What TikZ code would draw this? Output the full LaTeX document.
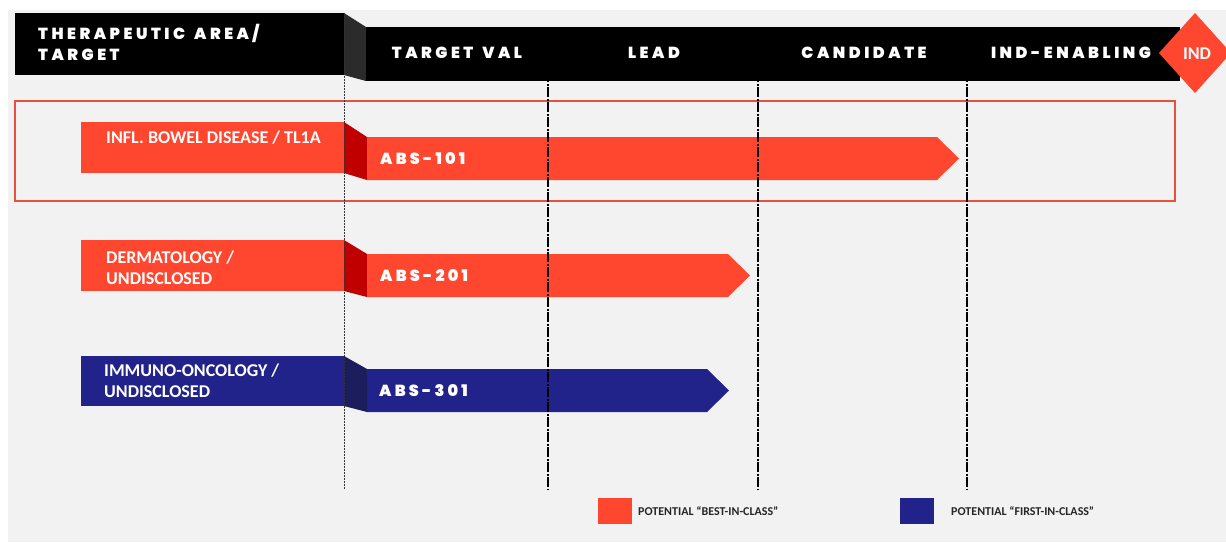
\documentclass[tikz,border=0pt]{standalone}
\usepackage{fontspec}
\IfFontExistsTF{Poppins ExtraBold}{%
  \newfontfamily\pop{Poppins ExtraBold}[LetterSpace=22]
  \newfontfamily\popabs{Poppins ExtraBold}[LetterSpace=20]
}{%
  \newfontfamily\pop{Poppins}[LetterSpace=22]
  \newfontfamily\popabs{Poppins}[LetterSpace=20]
}
\newfontfamily\carl{Carlito}
\newcommand{\wsp}{\hspace{9pt}}
\definecolor{bg}{HTML}{F2F2F2}
\definecolor{bred}{HTML}{FF462E}
\definecolor{dred}{HTML}{C00000}
\definecolor{navy}{HTML}{21238A}
\definecolor{dnavy}{HTML}{1B1D5C}
\definecolor{slantgray}{HTML}{2B2B2B}
\definecolor{boxred}{HTML}{E8503C}
\definecolor{legtext}{HTML}{262626}
\tikzset{
  hdrtext/.style={text=white,font=\pop\bfseries\fontsize{16}{21}\selectfont,inner sep=0pt},
  abstext/.style={text=white,font=\popabs\bfseries\fontsize{16}{18}\selectfont,inner sep=0pt,anchor=west},
  lbltext/.style={text=white,font=\carl\bfseries\fontsize{18}{21}\selectfont,inner sep=0pt,anchor=west,align=left},
  legtxt/.style={text=legtext,font=\carl\bfseries\fontsize{12}{14}\selectfont,inner sep=0pt,anchor=west},
  colline/.style={line width=1.6pt,black,dash pattern=on 10pt off 1.5pt on 2pt off 1.5pt},
  firstline/.style={line width=0.8pt,black!80,dash pattern=on 1.5pt off 1.5pt},
}
\begin{document}
\begin{tikzpicture}[x=1pt,y=-1pt]
\useasboundingbox (0,0) rectangle (1226,542);
\fill[white] (0,0) rectangle (1226,542);
\fill[bg] (8,10) rectangle (1226,542);
% header
\fill[black] (15,13) rectangle (344,75);
\fill[slantgray] (344,13) -- (366,27) -- (366,81) -- (344,75) -- cycle;
\fill[black] (366,27) rectangle (1180,81);
\node[hdrtext,anchor=west,align=left] (hta) at (38,42.5) {THERAPEUTIC\wsp AREA/\\TARGET};
\node[hdrtext] (htv) at (457,53) {TARGET\wsp VAL};
\node[hdrtext] (hld) at (654,53) {LEAD};
\node[hdrtext] (hcd) at (864,53) {CANDIDATE};
\node[hdrtext] (hie) at (1071,53) {IND-ENABLING};
\fill[bred] (1195,13) -- (1231,53) -- (1195,93) -- (1159,53) -- cycle;
\node[text=white,font=\carl\bfseries\fontsize{18}{20}\selectfont,inner sep=0pt] (ind) at (1197,54) {IND};
% highlight box
\draw[boxred,line width=1.3pt] (15,101) rectangle (1175,201);
% row 1
\fill[bred] (81,122) rectangle (344,173);
\fill[dred] (344,122) -- (367,137) -- (367,180) -- (344,173) -- cycle;
\fill[bred] (367,137) -- (937,137) -- (959,158.5) -- (937,180) -- (367,180) -- cycle;
\node[lbltext] (l1) at (106,138) {INFL. BOWEL DISEASE / TL1A};
\node[abstext] (a1) at (380,158.5) {ABS-101};
% row 2
\fill[bred] (81,240) rectangle (344,291);
\fill[dred] (344,240) -- (367,254) -- (367,297) -- (344,291) -- cycle;
\fill[bred] (367,254) -- (728,254) -- (750,275.5) -- (728,297) -- (367,297) -- cycle;
\node[lbltext] (l2) at (106,268) {DERMATOLOGY /\\UNDISCLOSED};
\node[abstext] (a2) at (380,275.5) {ABS-201};
% row 3
\fill[navy] (81,356) rectangle (344,406);
\fill[dnavy] (344,356) -- (367,369) -- (367,412) -- (344,406) -- cycle;
\fill[navy] (367,369) -- (707,369) -- (729,390.5) -- (707,412) -- (367,412) -- cycle;
\node[lbltext] (l3) at (104,381) {IMMUNO-ONCOLOGY /\\UNDISCLOSED};
\node[abstext] (a3) at (379,390.5) {ABS-301};
% column lines
\coordinate (c0t) at (344,13); \coordinate (c0b) at (344,490);
\coordinate (c1t) at (548,27); \coordinate (c1b) at (548,490);
\coordinate (c2t) at (758,27); \coordinate (c2b) at (758,490);
\coordinate (c3t) at (967,27); \coordinate (c3b) at (967,490);
\draw[firstline] (c0t) -- (c0b);
\draw[colline] (c1t) -- (c1b);
\draw[colline] (c2t) -- (c2b);
\draw[colline] (c3t) -- (c3b);
% legend
\fill[bred] (598,498) rectangle (632,524);
\node[legtxt] (lg1) at (638,511.5) {POTENTIAL “BEST-IN-CLASS”};
\fill[navy] (900,498) rectangle (934,524);
\node[legtxt] (lg2) at (951,511.5) {POTENTIAL “FIRST-IN-CLASS”};
\end{tikzpicture}
\end{document}
